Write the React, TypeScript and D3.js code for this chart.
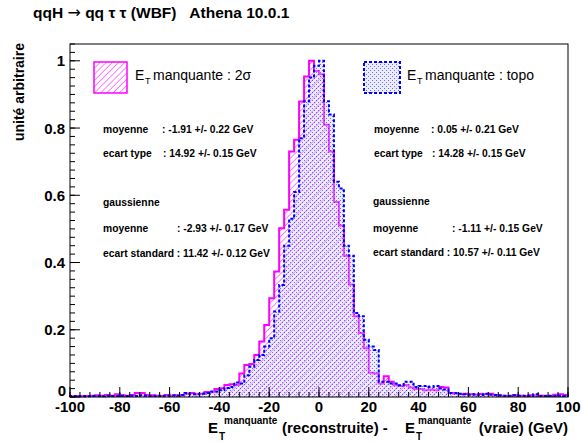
import React from "react";
import * as d3 from "d3";

// Histogram bins: 2 GeV wide, from -100 to 100 (values = left edge order)
const binLow = -100;
const binWidth = 2;
const sigma2Values = [
  0.002, 0.003, 0.002, 0.003, 0.004, 0.005, 0.004, 0.006, 0.004, 0.008,
  0.005, 0.004, 0.006, 0.012, 0.012, 0.006, 0.005, 0.004, 0.003, 0.006,
  0.004, 0.005, 0.006, 0.010, 0.012, 0.008, 0.010, 0.015, 0.014, 0.024,
  0.026, 0.036, 0.038, 0.036, 0.07, 0.095, 0.098, 0.125, 0.165, 0.214,
  0.294, 0.373, 0.502, 0.557, 0.73, 0.765, 0.879, 0.953, 1.0, 0.97,
  0.96, 0.81, 0.73, 0.58, 0.51, 0.42, 0.335, 0.24, 0.19, 0.145,
  0.072, 0.07, 0.04, 0.062, 0.045, 0.035, 0.033, 0.036, 0.028, 0.024,
  0.024, 0.02, 0.022, 0.02, 0.03, 0.028, 0.012, 0.01, 0.008, 0.01,
  0.008, 0.007, 0.009, 0.008, 0.01, 0.006, 0.004, 0.003, 0.003, 0.005,
  0.004, 0.003, 0.005, 0.004, 0.003, 0.004, 0.003, 0.007, 0.008, 0.006,
];
const topoValues = [
  0.003, 0.002, 0.003, 0.002, 0.003, 0.003, 0.002, 0.004, 0.003, 0.003,
  0.004, 0.003, 0.004, 0.003, 0.005, 0.004, 0.003, 0.004, 0.003, 0.004,
  0.005, 0.004, 0.006, 0.012, 0.008, 0.008, 0.01, 0.012, 0.016, 0.016,
  0.02, 0.027, 0.03, 0.043, 0.04, 0.065, 0.09, 0.11, 0.125, 0.15,
  0.175, 0.254, 0.333, 0.45, 0.53, 0.61, 0.77, 0.88, 0.95, 0.985,
  1.0, 0.88, 0.84, 0.64, 0.62, 0.45, 0.42, 0.25, 0.24, 0.17,
  0.15, 0.14, 0.045, 0.045, 0.04, 0.04, 0.035, 0.045, 0.045, 0.03,
  0.033, 0.033, 0.03, 0.033, 0.025, 0.022, 0.012, 0.012, 0.01, 0.008,
  0.007, 0.008, 0.006, 0.01, 0.007, 0.006, 0.005, 0.004, 0.004, 0.005,
  0.004, 0.004, 0.003, 0.008, 0.004, 0.003, 0.004, 0.003, 0.004, 0.003,
];

const xTickLabels = [-100, -80, -60, -40, -20, 0, 20, 40, 60, 80, 100];
const yTickLabels = [0, 0.2, 0.4, 0.6, 0.8, 1];

const statsLeft = [
  ["moyenne", ": -1.91 +/- 0.22 GeV"],
  ["ecart type", ": 14.92 +/- 0.15 GeV"],
];
const gausLeft = ["moyenne", ": -2.93 +/- 0.17 GeV", "ecart standard : 11.42 +/- 0.12 GeV"];
const statsRight = [
  ["moyenne", ": 0.05 +/- 0.21 GeV"],
  ["ecart type", ": 14.28 +/- 0.15 GeV"],
];
const gausRight = ["moyenne", ": -1.11 +/- 0.15 GeV", "ecart standard : 10.57 +/- 0.11 GeV"];

const W = 581;
const H = 443;
const FONT = "'Liberation Sans', Arial, Helvetica, sans-serif";

const x = d3.scaleLinear().domain([-100, 100]).range([70, 568]);
const y = d3.scaleLinear().domain([0, 1.05]).range([397, 44]);

function stepPath(values: number[]): string {
  const pts: [number, number][] = [[binLow, 0]];
  values.forEach((v, i) => {
    const lo = binLow + i * binWidth;
    pts.push([lo, v], [lo + binWidth, v]);
  });
  pts.push([binLow + values.length * binWidth, 0]);
  const line = d3
    .line<[number, number]>()
    .x((d) => x(d[0]))
    .y((d) => y(d[1]));
  return line(pts) || "";
}

export default function App() {
  const xMinor = d3.range(-100, 100.1, 4);
  const yMinor = d3.range(0, 1.051, 0.025);
  const magenta = "#ff00ff";
  const blue = "#0000ff";
  const statSize = 10.3;

  return (
    <svg
      width={W}
      height={H}
      style={{ position: "absolute", left: 0, top: 0, background: "#fff" }}
      fontFamily={FONT}
    >
      <defs>
        <pattern
          id="hatch"
          patternUnits="userSpaceOnUse"
          width="4.4"
          height="4.4"
          patternTransform="rotate(45)"
        >
          <line x1="0" y1="0" x2="0" y2="4.4" stroke={magenta} strokeWidth="1" />
        </pattern>
        <pattern id="dots" patternUnits="userSpaceOnUse" width="4" height="4">
          <rect x="0" y="0" width="4" height="4" fill="rgba(200,200,255,0.35)" />
          <rect x="0" y="0" width="1" height="1" fill={blue} fillOpacity={0.55} />
          <rect x="2" y="2" width="1" height="1" fill={blue} fillOpacity={0.55} />
        </pattern>
      </defs>
      <rect x={0} y={0} width={W} height={H} fill="#fff" />

      {/* title */}
      <text x={33} y={18} fontSize={15.5} fontWeight="bold" style={{ whiteSpace: "pre" }}>
        {"qqH "}
        <tspan fontFamily="'DejaVu Sans'" fontWeight="normal" fontSize={16}>→</tspan>
        {" qq τ τ (WBF)   Athena 10.0.1"}
      </text>

      {/* histograms */}
      <path d={stepPath(sigma2Values)} fill="url(#hatch)" stroke="none" />
      <path d={stepPath(sigma2Values)} fill="none" stroke={magenta} strokeWidth={2} />
      <path d={stepPath(topoValues)} fill="url(#dots)" stroke="none" />
      <path
        d={stepPath(topoValues)}
        fill="none"
        stroke={blue}
        strokeWidth={2}
        strokeDasharray="3,2"
      />

      {/* frame */}
      <rect x={70} y={44} width={498} height={353} fill="none" stroke="#000" strokeWidth={1} />

      {/* x ticks */}
      {xMinor.map((v) => (
        <line key={"xm" + v} x1={x(v)} x2={x(v)} y1={397} y2={392} stroke="#000" />
      ))}
      {xTickLabels.map((v) => (
        <line key={"xM" + v} x1={x(v)} x2={x(v)} y1={397} y2={387} stroke="#000" />
      ))}
      {xTickLabels.map((v) => (
        <text
          key={"xl" + v}
          x={x(v)}
          y={412}
          fontSize={15}
          fontWeight="bold"
          textAnchor="middle"
        >
          {v}
        </text>
      ))}

      {/* y ticks */}
      {yMinor.map((v, i) => (
        <line key={"ym" + i} x1={70} x2={75} y1={y(v)} y2={y(v)} stroke="#000" />
      ))}
      {yTickLabels.map((v) => (
        <line key={"yM" + v} x1={70} x2={80} y1={y(v)} y2={y(v)} stroke="#000" />
      ))}
      {yTickLabels.map((v) => (
        <text
          key={"yl" + v}
          x={v === 0 ? 66 : 65}
          y={v === 0 ? 396 : y(v) + 5.5}
          fontSize={15}
          fontWeight="bold"
          textAnchor="end"
        >
          {v}
        </text>
      ))}

      {/* y title */}
      <text
        transform="translate(24,43) rotate(-90)"
        fontSize={14}
        fontWeight="bold"
        textAnchor="end"
      >
        unité arbitraire
      </text>

      {/* x title */}
      <g fontWeight="bold">
        <text x={208} y={433} fontSize={15}>E</text>
        <text x={219} y={440} fontSize={10}>T</text>
        <text x={224} y={423.5} fontSize={10}>manquante</text>
        <text x={282} y={433} fontSize={15}>(reconstruite) -</text>
        <text x={405} y={433} fontSize={15}>E</text>
        <text x={416} y={440} fontSize={10}>T</text>
        <text x={418} y={423.5} fontSize={10}>manquante</text>
        <text x={568} y={433} fontSize={15} textAnchor="end">(vraie) (GeV)</text>
      </g>

      {/* legend 1 */}
      <rect x={94} y={62} width={33} height={31} fill="url(#hatch)" stroke={magenta} strokeWidth={1.5} />
      <text x={135} y={80} fontSize={14}>E</text>
      <text x={145} y={84} fontSize={9}>T</text>
      <text x={153} y={80} fontSize={14}>manquante : 2σ</text>

      {/* legend 2 */}
      <rect
        x={364}
        y={62}
        width={36}
        height={31}
        fill="url(#dots)"
        stroke={blue}
        strokeWidth={2}
        strokeDasharray="3,2"
      />
      <text x={407} y={80} fontSize={14}>E</text>
      <text x={417} y={84} fontSize={9}>T</text>
      <text x={425} y={80} fontSize={14}>manquante : topo</text>

      {/* stats */}
      <g fontSize={statSize} fontWeight="bold">
        <text x={103} y={133}>{statsLeft[0][0]}</text>
        <text x={162} y={133}>{statsLeft[0][1]}</text>
        <text x={103} y={157}>{statsLeft[1][0]}</text>
        <text x={163} y={157}>{statsLeft[1][1]}</text>
        <text x={103} y={206}>gaussienne</text>
        <text x={103} y={231.5}>{gausLeft[0]}</text>
        <text x={177} y={231.5}>{gausLeft[1]}</text>
        <text x={103} y={256.5}>{gausLeft[2]}</text>

        <text x={374} y={133}>{statsRight[0][0]}</text>
        <text x={431} y={133}>{statsRight[0][1]}</text>
        <text x={374} y={157}>{statsRight[1][0]}</text>
        <text x={432} y={157}>{statsRight[1][1]}</text>
        <text x={373} y={205}>gaussienne</text>
        <text x={373} y={231.5}>{gausRight[0]}</text>
        <text x={452} y={231.5}>{gausRight[1]}</text>
        <text x={373} y={255.5}>{gausRight[2]}</text>
      </g>
    </svg>
  );
}
